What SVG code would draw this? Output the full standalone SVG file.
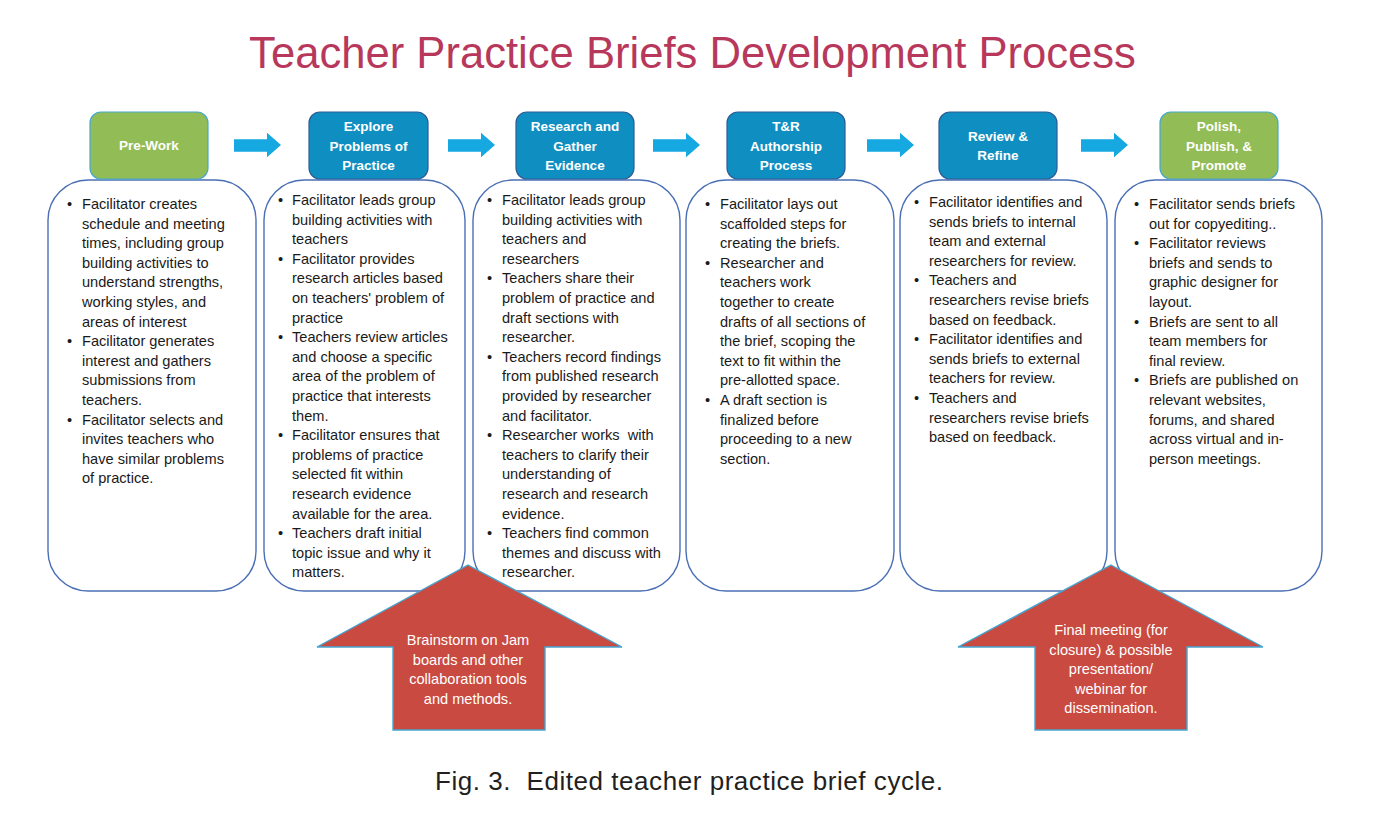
<svg xmlns="http://www.w3.org/2000/svg" width="1374" height="836" viewBox="0 0 1374 836">
<style>
.title{font-family:"Liberation Sans",Arial,sans-serif;font-size:43.6px;fill:#B8385C}
.hblue{fill:#0F8FC1;stroke:#2E5C96;stroke-width:1.2}
.hgreen{fill:#92BC56;stroke:#46A9CF;stroke-width:1.2}
.ht{font-family:"Liberation Sans",Arial,sans-serif;font-size:13.5px;font-weight:bold;fill:#FFFFFF;text-anchor:middle}
.body{fill:#FFFFFF;stroke:#4A6FB5;stroke-width:1.4}
.bt{font-family:"Liberation Sans",Arial,sans-serif;font-size:14.6px;fill:#1A1A1A;white-space:pre}
.arr{fill:#16A8E0}
.red{fill:#C94A40;stroke:#45A6D2;stroke-width:1.4}
.rt{font-family:"Liberation Sans",Arial,sans-serif;font-size:14.6px;fill:#FFFFFF;text-anchor:middle}
.cap{font-family:"Liberation Sans",Arial,sans-serif;font-size:26px;fill:#231F20;white-space:pre}
</style>
<rect width="1374" height="836" fill="#FFFFFF"/>
<text class="title" x="692.5" y="68" text-anchor="middle">Teacher Practice Briefs Development Process</text>

<g id="connectors">
<polygon class="arr" points="234,139.3 267,139.3 267,132.7 281,145 267,157.3 267,151.7 234,151.7"/>
<polygon class="arr" points="448,139.3 481,139.3 481,132.7 495,145 481,157.3 481,151.7 448,151.7"/>
<polygon class="arr" points="653,139.3 686,139.3 686,132.7 700,145 686,157.3 686,151.7 653,151.7"/>
<polygon class="arr" points="867,139.3 900,139.3 900,132.7 914,145 900,157.3 900,151.7 867,151.7"/>
<polygon class="arr" points="1081,139.3 1114,139.3 1114,132.7 1128,145 1114,157.3 1114,151.7 1081,151.7"/>
</g>

<g id="body1">
<rect class="body" x="48" y="180" width="208" height="411" rx="40"/>
<text class="bt"><tspan x="67" y="209">•</tspan><tspan x="67" y="346.2">•</tspan><tspan x="67" y="424.6">•</tspan></text>
<text class="bt"><tspan x="82" y="209">Facilitator creates</tspan><tspan x="82" dy="19.6">schedule and meeting</tspan><tspan x="82" dy="19.6">times, including group</tspan><tspan x="82" dy="19.6">building activities to</tspan><tspan x="82" dy="19.6">understand strengths,</tspan><tspan x="82" dy="19.6">working styles, and</tspan><tspan x="82" dy="19.6">areas of interest</tspan><tspan x="82" dy="19.6">Facilitator generates</tspan><tspan x="82" dy="19.6">interest and gathers</tspan><tspan x="82" dy="19.6">submissions from</tspan><tspan x="82" dy="19.6">teachers.</tspan><tspan x="82" dy="19.6">Facilitator selects and</tspan><tspan x="82" dy="19.6">invites teachers who</tspan><tspan x="82" dy="19.6">have similar problems</tspan><tspan x="82" dy="19.6">of practice.</tspan></text>
</g>

<g id="body2">
<rect class="body" x="264" y="180" width="201" height="411" rx="40"/>
<text class="bt"><tspan x="278" y="205">•</tspan><tspan x="278" y="263.8">•</tspan><tspan x="278" y="342.2">•</tspan><tspan x="278" y="440.2">•</tspan><tspan x="278" y="538.2">•</tspan></text>
<text class="bt"><tspan x="292" y="205">Facilitator leads group</tspan><tspan x="292" dy="19.6">building activities with</tspan><tspan x="292" dy="19.6">teachers</tspan><tspan x="292" dy="19.6">Facilitator provides</tspan><tspan x="292" dy="19.6">research articles based</tspan><tspan x="292" dy="19.6">on teachers' problem of</tspan><tspan x="292" dy="19.6">practice</tspan><tspan x="292" dy="19.6">Teachers review articles</tspan><tspan x="292" dy="19.6">and choose a specific</tspan><tspan x="292" dy="19.6">area of the problem of</tspan><tspan x="292" dy="19.6">practice that interests</tspan><tspan x="292" dy="19.6">them.</tspan><tspan x="292" dy="19.6">Facilitator ensures that</tspan><tspan x="292" dy="19.6">problems of practice</tspan><tspan x="292" dy="19.6">selected fit within</tspan><tspan x="292" dy="19.6">research evidence</tspan><tspan x="292" dy="19.6">available for the area.</tspan><tspan x="292" dy="19.6">Teachers draft initial</tspan><tspan x="292" dy="19.6">topic issue and why it</tspan><tspan x="292" dy="19.6">matters.</tspan></text>
</g>

<g id="body3">
<rect class="body" x="473" y="180" width="207" height="411" rx="40"/>
<text class="bt"><tspan x="487" y="205">•</tspan><tspan x="487" y="283.4">•</tspan><tspan x="487" y="361.8">•</tspan><tspan x="487" y="440.2">•</tspan><tspan x="487" y="538.2">•</tspan></text>
<text class="bt"><tspan x="502" y="205">Facilitator leads group</tspan><tspan x="502" dy="19.6">building activities with</tspan><tspan x="502" dy="19.6">teachers and</tspan><tspan x="502" dy="19.6">researchers</tspan><tspan x="502" dy="19.6">Teachers share their</tspan><tspan x="502" dy="19.6">problem of practice and</tspan><tspan x="502" dy="19.6">draft sections with</tspan><tspan x="502" dy="19.6">researcher.</tspan><tspan x="502" dy="19.6">Teachers record findings</tspan><tspan x="502" dy="19.6">from published research</tspan><tspan x="502" dy="19.6">provided by researcher</tspan><tspan x="502" dy="19.6">and facilitator.</tspan><tspan x="502" dy="19.6">Researcher works  with</tspan><tspan x="502" dy="19.6">teachers to clarify their</tspan><tspan x="502" dy="19.6">understanding of</tspan><tspan x="502" dy="19.6">research and research</tspan><tspan x="502" dy="19.6">evidence.</tspan><tspan x="502" dy="19.6">Teachers find common</tspan><tspan x="502" dy="19.6">themes and discuss with</tspan><tspan x="502" dy="19.6">researcher.</tspan></text>
</g>

<g id="body4">
<rect class="body" x="686" y="180" width="208" height="411" rx="40"/>
<text class="bt"><tspan x="705" y="209">•</tspan><tspan x="705" y="267.8">•</tspan><tspan x="705" y="405">•</tspan></text>
<text class="bt"><tspan x="720" y="209">Facilitator lays out</tspan><tspan x="720" dy="19.6">scaffolded steps for</tspan><tspan x="720" dy="19.6">creating the briefs.</tspan><tspan x="720" dy="19.6">Researcher and</tspan><tspan x="720" dy="19.6">teachers work</tspan><tspan x="720" dy="19.6">together to create</tspan><tspan x="720" dy="19.6">drafts of all sections of</tspan><tspan x="720" dy="19.6">the brief, scoping the</tspan><tspan x="720" dy="19.6">text to fit within the</tspan><tspan x="720" dy="19.6">pre-allotted space.</tspan><tspan x="720" dy="19.6">A draft section is</tspan><tspan x="720" dy="19.6">finalized before</tspan><tspan x="720" dy="19.6">proceeding to a new</tspan><tspan x="720" dy="19.6">section.</tspan></text>
</g>

<g id="body5">
<rect class="body" x="900" y="180" width="207" height="411" rx="40"/>
<text class="bt"><tspan x="914" y="207">•</tspan><tspan x="914" y="285.4">•</tspan><tspan x="914" y="344.2">•</tspan><tspan x="914" y="403">•</tspan></text>
<text class="bt"><tspan x="929" y="207">Facilitator identifies and</tspan><tspan x="929" dy="19.6">sends briefs to internal</tspan><tspan x="929" dy="19.6">team and external</tspan><tspan x="929" dy="19.6">researchers for review.</tspan><tspan x="929" dy="19.6">Teachers and</tspan><tspan x="929" dy="19.6">researchers revise briefs</tspan><tspan x="929" dy="19.6">based on feedback.</tspan><tspan x="929" dy="19.6">Facilitator identifies and</tspan><tspan x="929" dy="19.6">sends briefs to external</tspan><tspan x="929" dy="19.6">teachers for review.</tspan><tspan x="929" dy="19.6">Teachers and</tspan><tspan x="929" dy="19.6">researchers revise briefs</tspan><tspan x="929" dy="19.6">based on feedback.</tspan></text>
</g>

<g id="body6">
<rect class="body" x="1115" y="180" width="207" height="411" rx="40"/>
<text class="bt"><tspan x="1134" y="209">•</tspan><tspan x="1134" y="248.2">•</tspan><tspan x="1134" y="326.6">•</tspan><tspan x="1134" y="385.4">•</tspan></text>
<text class="bt"><tspan x="1149" y="209">Facilitator sends briefs</tspan><tspan x="1149" dy="19.6">out for copyediting..</tspan><tspan x="1149" dy="19.6">Facilitator reviews</tspan><tspan x="1149" dy="19.6">briefs and sends to</tspan><tspan x="1149" dy="19.6">graphic designer for</tspan><tspan x="1149" dy="19.6">layout.</tspan><tspan x="1149" dy="19.6">Briefs are sent to all</tspan><tspan x="1149" dy="19.6">team members for</tspan><tspan x="1149" dy="19.6">final review.</tspan><tspan x="1149" dy="19.6">Briefs are published on</tspan><tspan x="1149" dy="19.6">relevant websites,</tspan><tspan x="1149" dy="19.6">forums, and shared</tspan><tspan x="1149" dy="19.6">across virtual and in-</tspan><tspan x="1149" dy="19.6">person meetings.</tspan></text>
</g>

<g id="h1"><rect class="hgreen" x="90" y="112" width="118" height="67" rx="11"/><text class="ht" x="149" y="150">Pre-Work</text></g>
<g id="h2"><rect class="hblue" x="309" y="112" width="119" height="67" rx="11"/><text class="ht"><tspan x="368.5" y="131">Explore</tspan><tspan x="368.5" y="150.5">Problems of</tspan><tspan x="368.5" y="170">Practice</tspan></text></g>
<g id="h3"><rect class="hblue" x="516" y="112" width="118" height="67" rx="11"/><text class="ht"><tspan x="575" y="131">Research and</tspan><tspan x="575" y="150.5">Gather</tspan><tspan x="575" y="170">Evidence</tspan></text></g>
<g id="h4"><rect class="hblue" x="727" y="112" width="118" height="67" rx="11"/><text class="ht"><tspan x="786" y="131">T&amp;R</tspan><tspan x="786" y="150.5">Authorship</tspan><tspan x="786" y="170">Process</tspan></text></g>
<g id="h5"><rect class="hblue" x="939" y="112" width="118" height="67" rx="11"/><text class="ht"><tspan x="998" y="140.5">Review &amp;</tspan><tspan x="998" y="160">Refine</tspan></text></g>
<g id="h6"><rect class="hgreen" x="1160" y="112" width="118" height="67" rx="11"/><text class="ht"><tspan x="1219" y="131">Polish,</tspan><tspan x="1219" y="150.5">Publish, &amp;</tspan><tspan x="1219" y="170">Promote</tspan></text></g>

<g id="up1">
<polygon class="red" points="468,565 622,647 545,647 545,730 393,730 393,647 317,647"/>
<text class="rt"><tspan x="468" y="645">Brainstorm on Jam</tspan><tspan x="468" y="664.5">boards and other</tspan><tspan x="468" y="684">collaboration tools</tspan><tspan x="468" y="703.5">and methods.</tspan></text>
</g>
<g id="up2">
<polygon class="red" points="1111,565 1263,647 1187,647 1187,730 1035,730 1035,647 958,647"/>
<text class="rt"><tspan x="1111" y="635">Final meeting (for</tspan><tspan x="1111" y="654.5">closure) &amp; possible</tspan><tspan x="1111" y="674">presentation/</tspan><tspan x="1111" y="693.5">webinar for</tspan><tspan x="1111" y="713">dissemination.</tspan></text>
</g>

<text class="cap" x="435" y="790" textLength="508" lengthAdjust="spacing">Fig. 3.  Edited teacher practice brief cycle.</text>
</svg>
